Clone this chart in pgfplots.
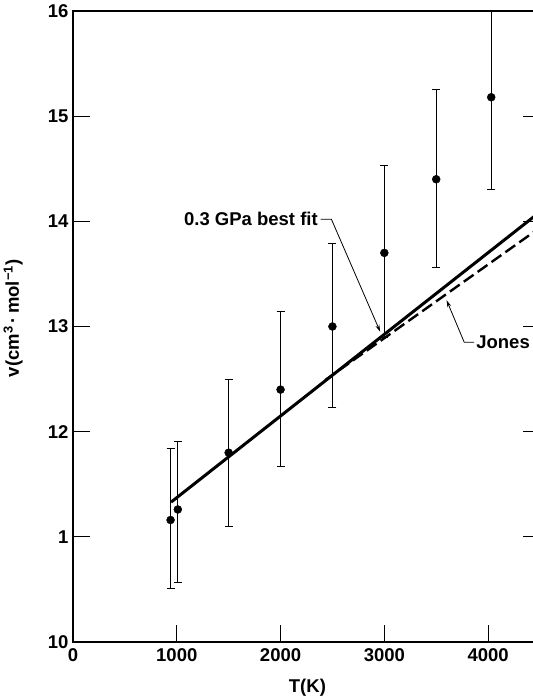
\documentclass[border=0pt]{standalone}
\usepackage{fontspec}
\setmainfont{Liberation Sans}
\usepackage{pgfplots}
\pgfplotsset{compat=1.18}
\usetikzlibrary{arrows.meta}
\begin{document}
\begin{tikzpicture}[font=\bfseries\fontsize{18.5bp}{21bp}\selectfont]
\useasboundingbox (-73bp,-58bp) rectangle (460bp,642bp);
\begin{axis}[
  at={(0,0)}, anchor=south west,
  scale only axis, width=467bp, height=631bp,
  xmin=0, xmax=4500, ymin=10, ymax=16,
  xtick={0,1000,2000,3000,4000},
  ytick={10,11,12,13,14,15,16},
  yticklabels={10,1,12,13,14,15,16},
  xticklabels={0,1000,2000,3000,4000},
  xtick pos=left, ytick pos=both,
  tick align=inside, major tick length=17bp,
  axis line style={line width=1.3bp},
  tick style={line width=1bp, black},
  /pgf/number format/assume math mode=true,
  xticklabel style={yshift=-3bp},
  yticklabel style={xshift=-1bp},
  xlabel={T(K)},
  ylabel={v(cm\textsuperscript{3}\,·\,mol\textsuperscript{−1})},
  xlabel style={at={(axis description cs:0.502,-0.073)}, anchor=center},
  ylabel style={at={(axis description cs:-0.128,0.513)}, anchor=center, rotate=0},
  clip=true,
]
% data with asymmetric error bars
\addplot[black, only marks, mark=*, mark size=4bp,
  error bars/.cd, y dir=both, y explicit,
  error bar style={line width=0.8bp, black},
  error mark options={rotate=90, mark size=4bp, line width=0.8bp, black}]
coordinates {
  (940,11.16)  += (0,0.68) -= (0,0.65)
  (1010,11.26) += (0,0.65) -= (0,0.69)
  (1500,11.80) += (0,0.70) -= (0,0.70)
  (2000,12.40) += (0,0.74) -= (0,0.73)
  (2500,13.00) += (0,0.79) -= (0,0.77)
  (3000,13.70) += (0,0.83) -= (0,0.80)
  (3500,14.40) += (0,0.85) -= (0,0.84)
  (4030,15.18) += (0,0.90) -= (0,0.88)
};
% 0.3 GPa best fit (solid)
\addplot[black, line width=3bp] coordinates {(945,11.33) (4500,14.09)};
% Jones (dashed)
\addplot[black, line width=2.4bp, dash pattern=on 12bp off 5bp] coordinates {(2430,12.49) (4500,13.94)};
% annotations
\node[anchor=east, inner sep=1bp] at (axis cs:2370,14.02) {0.3 GPa best fit};
\draw[line width=0.8bp, -{Stealth[length=7bp,width=4bp]}] (axis cs:2385,14.02) -- (axis cs:2490,14.02) -- (axis cs:2960,12.95);
\node[anchor=west, inner sep=1bp] at (axis cs:3875,12.85) {Jones};
\draw[line width=0.8bp, -{Stealth[length=7bp,width=4bp]}] (axis cs:3865,12.85) -- (axis cs:3770,12.85) -- (axis cs:3600,13.25);
\end{axis}
\end{tikzpicture}
\end{document}
